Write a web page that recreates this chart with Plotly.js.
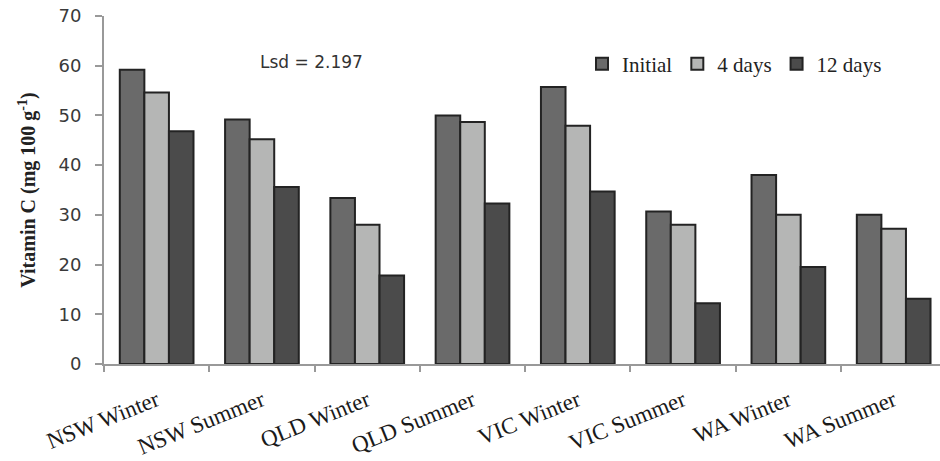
<!DOCTYPE html>
<html><head><meta charset="utf-8">
<script src="https://cdn.plot.ly/plotly-3.0.1.min.js"></script>
<style>body{margin:0;background:#fff}#c{width:940px;height:461px}</style>
</head><body><div id="c"></div>
<script>
const categories = ["NSW Winter","NSW Summer","QLD Winter","QLD Summer","VIC Winter","VIC Summer","WA Winter","WA Summer"];
const initial = [59.2, 49.2, 33.4, 50.0, 55.7, 30.7, 38.0, 30.0];
const days4 = [54.6, 45.2, 28.0, 48.7, 47.9, 28.0, 30.0, 27.2];
const days12 = [46.8, 35.6, 17.8, 32.3, 34.7, 12.2, 19.5, 13.1];
const seriesNames = ["Initial","4 days","12 days"];
const colors = ["#6a6a6a","#b5b6b5","#4b4b4b"];
const vals = [initial, days4, days12];
const traces = vals.map((v,i)=>({
  type:'bar', x:categories, y:v, name:seriesNames[i],
  marker:{color:colors[i], line:{color:'#232323', width:2}}
}));
const serif = 'Liberation Serif, Times New Roman, serif';
const layout = {
  width:940, height:461,
  margin:{l:104, r:0, t:16, b:97},
  paper_bgcolor:'#fff', plot_bgcolor:'#fff',
  barmode:'group', bargap:0.3, bargroupgap:0,
  showlegend:true,
  legend:{orientation:'h', x:(582-104)/836, xanchor:'left', y:(364-64)/348, yanchor:'middle',
    font:{family:serif, size:21, color:'#222'},
    tracegroupgap:0, bgcolor:'rgba(0,0,0,0)'},
  xaxis:{range:[-0.5,7.44], showline:true, linecolor:'#999', linewidth:2,
    ticks:'outside', tickson:'boundaries', ticklen:6, tickcolor:'#999', tickwidth:2,
    tickangle:-22, ticklabelstandoff:12,
    tickfont:{family:serif, size:23, color:'#1a1a1a'},
    showgrid:false, zeroline:false},
  yaxis:{range:[0,70], dtick:10, showline:true, linecolor:'#999', linewidth:2,
    ticks:'outside', ticklen:7, tickcolor:'#999', tickwidth:2, ticklabelstandoff:10,
    tickfont:{family:'DejaVu Sans, Verdana, sans-serif', size:18, color:'#3a3a3a'},
    showgrid:false, zeroline:false,
    title:{text:'<b>Vitamin C (mg 100 g<sup>-1</sup>)</b>', standoff:17,
      font:{family:serif, size:20, color:'#222'}}},
  annotations:[{xref:'paper', yref:'paper', x:(258-104)/836, y:(364-62)/348, xanchor:'left', yanchor:'middle',
    text:'Lsd = 2.197', showarrow:false,
    font:{family:'DejaVu Sans, Verdana, sans-serif', size:17, color:'#333'}}]
};
Plotly.newPlot('c', traces, layout, {displayModeBar:false, staticPlot:true});
</script></body></html>
